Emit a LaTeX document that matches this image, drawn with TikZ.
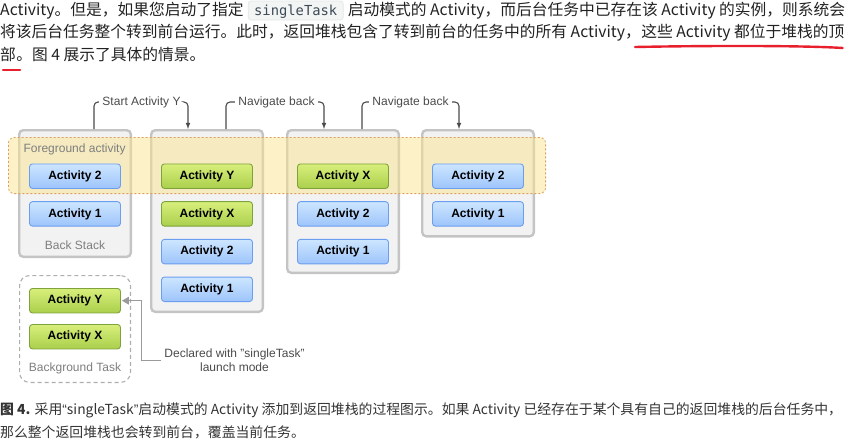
\documentclass[tikz,border=0pt]{standalone}
\usepackage{fontspec}
\setmainfont{Liberation Sans}
\newfontfamily\cjk{Noto Sans CJK SC}
\newfontfamily\codefont{DejaVu Sans Mono}
\usetikzlibrary{positioning,shapes,arrows}
\definecolor{bodygray}{HTML}{222222}
\definecolor{capgray}{HTML}{333333}
\definecolor{codebg}{HTML}{F3F4F4}
\definecolor{codeline}{HTML}{E3E6E8}
\definecolor{codetext}{HTML}{3D4B57}
\definecolor{markred}{HTML}{E8202E}
\definecolor{stackline}{HTML}{C4C4C4}
\definecolor{stackfill}{HTML}{F2F2F2}
\definecolor{bluetop}{HTML}{CDE6FF}
\definecolor{bluebot}{HTML}{9DC4FB}
\definecolor{blueline}{HTML}{6B9EEF}
\definecolor{greentop}{HTML}{D8EF7B}
\definecolor{greenbot}{HTML}{AACF4C}
\definecolor{greenline}{HTML}{7FA33C}
\definecolor{bandfill}{HTML}{F9E38F}
\definecolor{bandline}{HTML}{DCA060}
\definecolor{labelgray}{HTML}{4A4A4A}
\definecolor{softgray}{HTML}{7E7E7E}
\definecolor{pointgray}{HTML}{9A9A9A}
\def\gap{12.3pt}
\def\reach{19pt}
\tikzstyle{body}=[inner sep=0pt,text=bodygray,font=\cjk\fontsize{15.75}{22}\selectfont]
\tikzstyle{caption}=[inner sep=0pt,text=capgray,font=\cjk\fontsize{13.85}{20}\selectfont]
\tikzstyle{codebox}=[fill=codebg,draw=codeline,line width=.8pt,rounded corners=3pt,text=codetext,
  font=\codefont\fontsize{13.8}{16}\selectfont,inner xsep=6pt,inner ysep=1.5pt,text height=13pt,text depth=3pt]
\tikzstyle{redline}=[draw=markred,line width=2.4pt,line cap=round]
\tikzstyle{stack}=[draw=stackline,fill=stackfill,line width=2.4pt,rounded corners=4pt,
  minimum width=111.6pt,anchor=north west]
\tikzstyle{band}=[fill=bandfill,fill opacity=.5,draw=bandline,dash pattern=on 2pt off 2pt,
  line width=.8pt,rounded corners=6pt,minimum width=537.2pt,minimum height=56.2pt,anchor=north west]
\tikzstyle{bgtask}=[draw=pointgray!80,dash pattern=on 4pt off 3pt,line width=1.1pt,rounded corners=10pt,
  minimum width=110.9pt,minimum height=106.9pt,anchor=north west]
\tikzstyle{act}=[rounded corners=3pt,line width=.9pt,minimum width=91pt,minimum height=24.5pt,
  inner sep=0pt,text=black,font=\bfseries\fontsize{12}{14}\selectfont]
\tikzstyle{actB}=[act,draw=blueline,top color=bluetop,bottom color=bluebot]
\tikzstyle{actG}=[act,draw=greenline,top color=greentop,bottom color=greenbot]
\tikzstyle{gray label}=[text=softgray,font=\fontsize{12}{14}\selectfont]
\tikzstyle{hint}=[text=labelgray,font=\fontsize{12}{14}\selectfont]
\newcommand{\newActivity}[4]{\node[#3](#1)[#4]{#2};}

\begin{document}
\begin{tikzpicture}[x=1pt,y=-1pt,node distance=\gap,>=latex,
    conn/.style={draw=labelgray,line width=1.1pt,rounded corners=4pt},
    declconn/.style={draw=pointgray,line width=.9pt,-triangle 60,shorten >=1pt}
    ]
    \useasboundingbox (0,0) rectangle (855,439);
    % paragraph above the figure
    \node[body,anchor=base west] (l1a) at (0,15.5) {Activity。但是，如果您启动了指定};
    \node[codebox,base right=4pt of l1a] (code) {singleTask};
    \node[body,base right=4pt of code] (l1b) {启动模式的 Activity，而后台任务中已存在该 Activity 的实例，则系统会};
    \node[body,anchor=base west] (l2a) at (0,37.5) {将该后台任务整个转到前台运行。此时，返回堆栈包含了转到前台的任务中的所有 Activity，};
    \node[body,base right=0pt of l2a] (l2b) {这些 Activity 都位于堆栈的顶};
    \node[body,anchor=base west] (l3a) at (0,60) {部};
    \node[body,base right=0pt of l3a] (l3b) {。图 4 展示了具体的情景。};
    \draw[redline] ([shift={(-6,9.5)}]l2b.base west) .. controls ([shift={(70,8)}]l2b.base west)
      and ([shift={(-40,8)}]l2b.base east) .. ([shift={(-2,10.5)}]l2b.base east);
    \draw[redline] ([shift={(3,10)}]l3a.base west) -- ([shift={(4,10)}]l3a.base east);

    % stacks
    \node[stack,minimum height=126.6pt] (stackA) at (18,129) {};
    \node[stack,minimum height=181.6pt] (stackB) at (150,129) {};
    \node[stack,minimum height=142.6pt] (stackC) at (286,129) {};
    \node[stack,minimum height=106.1pt] (stackD) at (421,129) {};
    \node[band] (fg) at (8,137) {};
    \node[gray label,anchor=west] (fgLbl) at (20,149.5) {Foreground activity};

    \newActivity{a2}{Activity 2}{actB}{below=34.5pt of stackA.north}
    \newActivity{a1}{Activity 1}{actB}{below=of a2}
    \node[gray label] (backLbl) at (75,245) {Back Stack};

    \newActivity{bY}{Activity Y}{actG}{below=34.5pt of stackB.north}
    \newActivity{bX}{Activity X}{actG}{below=of bY}
    \newActivity{b2}{Activity 2}{actB}{below=of bX}
    \newActivity{b1}{Activity 1}{actB}{below=of b2}

    \newActivity{cX}{Activity X}{actG}{below=34.5pt of stackC.north}
    \newActivity{c2}{Activity 2}{actB}{below=of cX}
    \newActivity{c1}{Activity 1}{actB}{below=of c2}

    \newActivity{d2}{Activity 2}{actB}{below=34.5pt of stackD.north}
    \newActivity{d1}{Activity 1}{actB}{below=of d2}

    % background task
    \node[bgtask] (bgTask) at (19,275) {};
    \newActivity{gY}{Activity Y}{actG}{below=13pt of bgTask.north}
    \newActivity{gX}{Activity X}{actG}{below=10.6pt of gY}
    \node[gray label] (bgLbl) at (75,368) {Background Task};

    % steps
    \node[hint] (startY) at (141.5,102) {Start Activity Y};
    \node[hint] (backA) at (276.5,102) {Navigate back};
    \node[hint] (backB) at (410.5,102) {Navigate back};
    \draw[conn] ([xshift=\reach]stackA.north) |- (startY.west);
    \draw[conn,->] (startY.east) -| ([xshift=-\reach]stackB.north);
    \draw[conn] ([xshift=\reach]stackB.north) |- (backA.west);
    \draw[conn,->] (backA.east) -| ([xshift=-\reach]stackC.north);
    \draw[conn] ([xshift=\reach]stackC.north) |- (backB.west);
    \draw[conn,->] (backB.east) -| ([xshift=-\reach]stackD.north);

    \node[hint,align=center] (decl) at (234.5,360) {Declared with "singleTask"\\launch mode};
    \draw[declconn] (decl.west) -- ++(-19,0) |- (gY.east);

    % caption
    \node[caption,anchor=base west] (cap1) at (0,414) {\textbf{图 4.} 采用{\rmfamily “}singleTask{\rmfamily ”}启动模式的 Activity 添加到返回堆栈的过程图示。如果 Activity 已经存在于某个具有自己的返回堆栈的后台任务中，};
    \node[caption,anchor=base west] (cap2) at (0,437) {那么整个返回堆栈也会转到前台，覆盖当前任务。};
  \end{tikzpicture}
\end{document}
